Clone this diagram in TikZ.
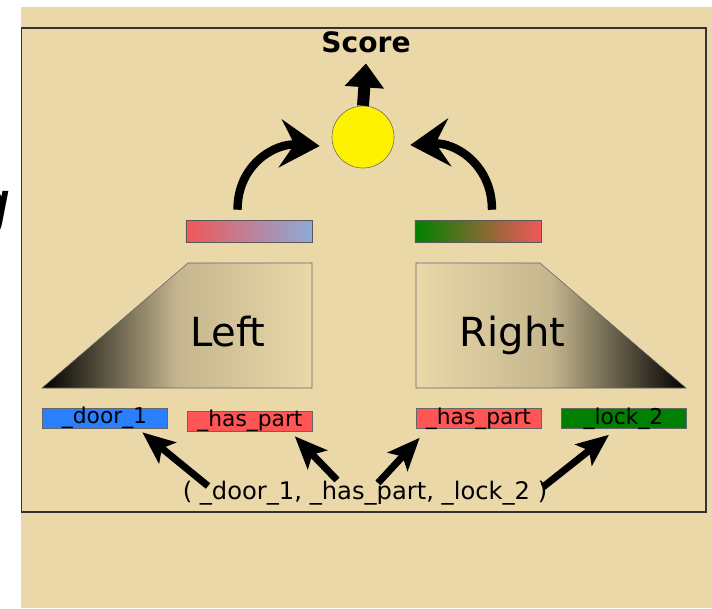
\documentclass[tikz,border=0pt]{standalone}
\usepackage{fontspec}
\setmainfont{DejaVu Sans}
\usetikzlibrary{arrows.meta,calc}
\definecolor{sand}{RGB}{234,216,169}
\definecolor{salmon}{RGB}{240,88,88}
\definecolor{skyb}{RGB}{140,170,215}
\definecolor{leaf}{RGB}{0,128,0}
\definecolor{tagred}{RGB}{255,85,85}
\definecolor{tagblue}{RGB}{42,127,255}
\begin{document}
\begin{tikzpicture}[x=0.025cm, y=-0.025cm,
bar/.style =
  {rectangle,
   draw=black!65, thin,
   minimum width=3.15cm, minimum height=0.55cm},
tag/.style =
  {rectangle,
   draw=black!60, thin, inner sep=0pt,
   minimum width=3.125cm, minimum height=0.5cm,
   text height=11pt, text depth=3pt,
   font=\fontsize{15.5}{18}\selectfont},
side/.style = {font=\fontsize{28.5}{34}\selectfont, inner sep=0pt, anchor=base},
bent arrow/.style = {line width=6pt, -{Stealth[length=28pt,width=34pt,inset=10pt]}},
pick arrow/.style = {line width=5pt, -{Stealth[length=23pt,width=19pt,inset=5pt]}}
]
\useasboundingbox (0,0) rectangle (712,608);
%Background
\fill[sand] (21,7) rectangle (712,608);
\draw[black!80, line width=1pt] (21.5,28) rectangle (706,512);
\node[font=\itshape\fontsize{47}{56}\selectfont, inner sep=0pt, anchor=base east] (cut) at (12,227) {g};
%Encoders
\shade[left color=black, right color=sand, middle color=sand!84!black, draw=black!60, thin]
  (42,388) -- (188,263) -- (312,263) -- (312,388) -- cycle;
\shade[left color=sand, right color=black, middle color=sand!84!black, draw=black!60, thin]
  (416,388) -- (416,263) -- (540,263) -- (686,388) -- cycle;
\node[side] (left) at (228,346) {Left};
\node[side] (right) at (512.5,346) {Right};
%Nodes
\node[bar, left color=salmon, right color=skyb] (lbar) at (249,231) {};
\node[bar, left color=leaf, right color=salmon] (rbar) at (478,231) {};
\node[circle, draw=black!60, fill=yellow, minimum size=1.55cm, inner sep=0pt] (dot) at (363,137) {};
\node[font=\bfseries\fontsize{20}{24}\selectfont, inner sep=0pt] (score) at (366,42.5) {Score};
\node[tag, fill=tagblue] (door) at (104.5,418) {\_door\_1};
\node[tag, fill=tagred] (hasL) at (250,421) {\_has\_part};
\node[tag, fill=tagred] (hasR) at (478.5,418.5) {\_has\_part};
\node[tag, fill=leaf] (lock) at (623.5,418.5) {\_lock\_2};
\node[font=\fontsize{17.2}{20}\selectfont, inner sep=0pt, anchor=base] (triple) at (365,499)
  {( \_door\_1, \_has\_part, \_lock\_2 )};
\coordinate (t1) at (208,486);
\coordinate (t2) at (337,480);
\coordinate (t3) at (378,483);
\coordinate (t4) at (543,487);
%Arrows
\draw[line width=8.5pt, -{Triangle[length=17pt,width=27pt]}] (dot.north) -- ($(score.south)+(0,10)$);
\draw[bent arrow] ($(lbar.north)+(-11.5,-10)$) .. controls +(0,-45) and +(-45,-3) .. ($(dot.west)+(-12,9)$);
\draw[bent arrow] ($(rbar.north)+(14,-10)$) .. controls +(0,-45) and +(45,-3) .. ($(dot.east)+(16,8)$);
\draw[pick arrow] (t1) -- ($(door.south east)+(-25,4)$);
\draw[pick arrow] (t2) -- ($(hasL.south east)+(-18,5)$);
\draw[pick arrow] (t3) -- ($(hasR.south west)+(4,9)$);
\draw[pick arrow] (t4) -- ($(lock.south)+(-14.5,6)$);
\end{tikzpicture}
\end{document}
